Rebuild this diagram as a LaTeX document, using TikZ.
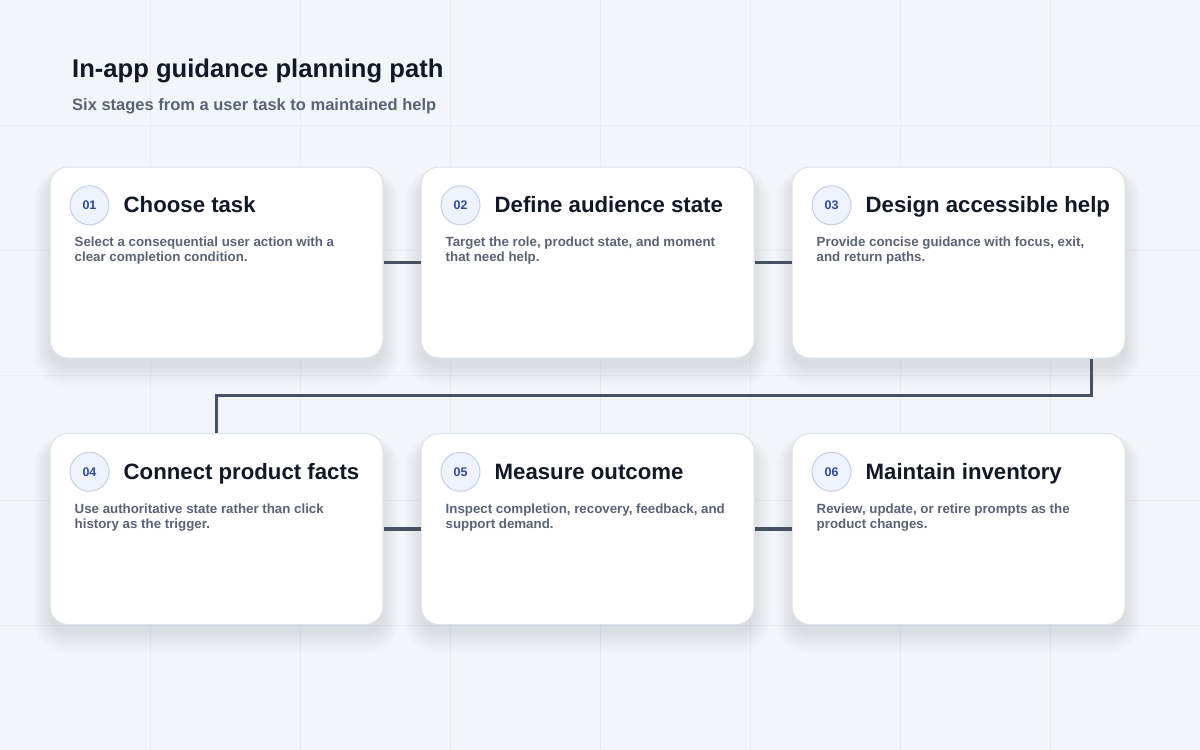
\documentclass[tikz,border=0pt]{standalone}
\usepackage{fontspec}
\setmainfont{Liberation Sans}
\usetikzlibrary{positioning,calc}
\definecolor{bgc}{HTML}{F2F5FA}
\definecolor{gridc}{HTML}{E9EDF3}
\definecolor{cardb}{HTML}{DCE2EC}
\definecolor{connc}{HTML}{475166}
\definecolor{badgef}{HTML}{EEF3FD}
\definecolor{badgeb}{HTML}{C3D0EA}
\definecolor{badget}{HTML}{2F4C9A}
\definecolor{titlec}{HTML}{111827}
\definecolor{descc}{HTML}{5A6376}
\definecolor{shadowc}{HTML}{33405E}
\pgfdeclarelayer{bg}
\pgfsetlayers{bg,main}
\tikzset{
  card/.style={draw=cardb, line width=1pt, fill=white, rounded corners=18pt,
    minimum width=333pt, minimum height=191pt, inner sep=0pt},
  badge/.style={circle, draw=badgeb, line width=1pt, fill=badgef, minimum size=39pt,
    inner sep=0pt, text=badget, font=\fontsize{12.5}{12.5}\selectfont\bfseries},
  ctitle/.style={anchor=base west, inner sep=0pt, text=titlec,
    font=\fontsize{22.2}{22}\selectfont\bfseries},
  cdesc/.style={anchor=base west, inner sep=0pt, text=descc, align=left,
    font=\fontsize{13.3}{15}\selectfont\bfseries},
  conn/.style={draw=connc, line width=3.8pt},
}
\newcommand{\stagecard}[6]{%
  \node[card] (#1) at (#2,#3) {};
  \node[badge] (#1b) at ([shift={(40,38.8)}]#1.north west) {#4};
  \node[ctitle] (#1t) at ([shift={(74,46)}]#1.north west) {#5};
  \node[cdesc] (#1d) at ([shift={(25,95)}]#1.north west) {#6};
}
\begin{document}
\begin{tikzpicture}[x=1pt,y=-1pt]
\useasboundingbox (0,0) rectangle (1200,750);
\begin{pgfonlayer}{bg}
\fill[bgc] (0,0) rectangle (1200,750);
\foreach \gx in {150,300,...,1050} \draw[gridc, line width=1pt] (\gx,0) -- (\gx,750);
\foreach \gy in {125,250,...,625} \draw[gridc, line width=1pt] (0,\gy) -- (1200,\gy);
\end{pgfonlayer}

\node[anchor=base west, inner sep=0pt, text=titlec, font=\fontsize{25.6}{26}\selectfont\bfseries] (title) at (72,77.5) {In-app guidance planning path};
\node[anchor=base west, inner sep=0pt, text=descc, font=\fontsize{16.5}{17}\selectfont\bfseries] (subtitle) at (72,110) {Six stages from a user task to maintained help};

\stagecard{c1}{216.5}{262.5}{01}{Choose task}{Select a consequential user action with a\\clear completion condition.}
\stagecard{c2}{587.5}{262.5}{02}{Define audience state}{Target the role, product state, and moment\\that need help.}
\stagecard{c3}{958.5}{262.5}{03}{Design accessible help}{Provide concise guidance with focus, exit,\\and return paths.}
\stagecard{c4}{216.5}{529}{04}{Connect product facts}{Use authoritative state rather than click\\history as the trigger.}
\stagecard{c5}{587.5}{529}{05}{Measure outcome}{Inspect completion, recovery, feedback, and\\support demand.}
\stagecard{c6}{958.5}{529}{06}{Maintain inventory}{Review, update, or retire prompts as the\\product changes.}

\begin{pgfonlayer}{bg}
\foreach \c in {c1,c2,c3,c4,c5,c6}{
  \foreach \i in {0,...,11}{
    \pgfmathsetmacro{\rr}{18+\i*1.2}
    \pgfmathsetmacro{\sx}{\i*1.4}
    \pgfmathsetmacro{\st}{10-\i*0.7}
    \pgfmathsetmacro{\sb}{8+\i*1.8}
    \fill[shadowc, opacity=0.0065, rounded corners=\rr pt]
      ([xshift=-\sx pt, yshift=-\st pt]\c.north west) rectangle
      ([xshift=\sx pt, yshift=-\sb pt]\c.south east);
  }
}
\end{pgfonlayer}

\draw[conn] (c1.east) -- (c2.west);
\draw[conn] (c2.east) -- (c3.west);
\draw[conn] ([xshift=-34pt]c3.south east) -- ++(0,37) -| (c4.north);
\draw[conn] (c4.east) -- (c5.west);
\draw[conn] (c5.east) -- (c6.west);
\end{tikzpicture}
\end{document}
